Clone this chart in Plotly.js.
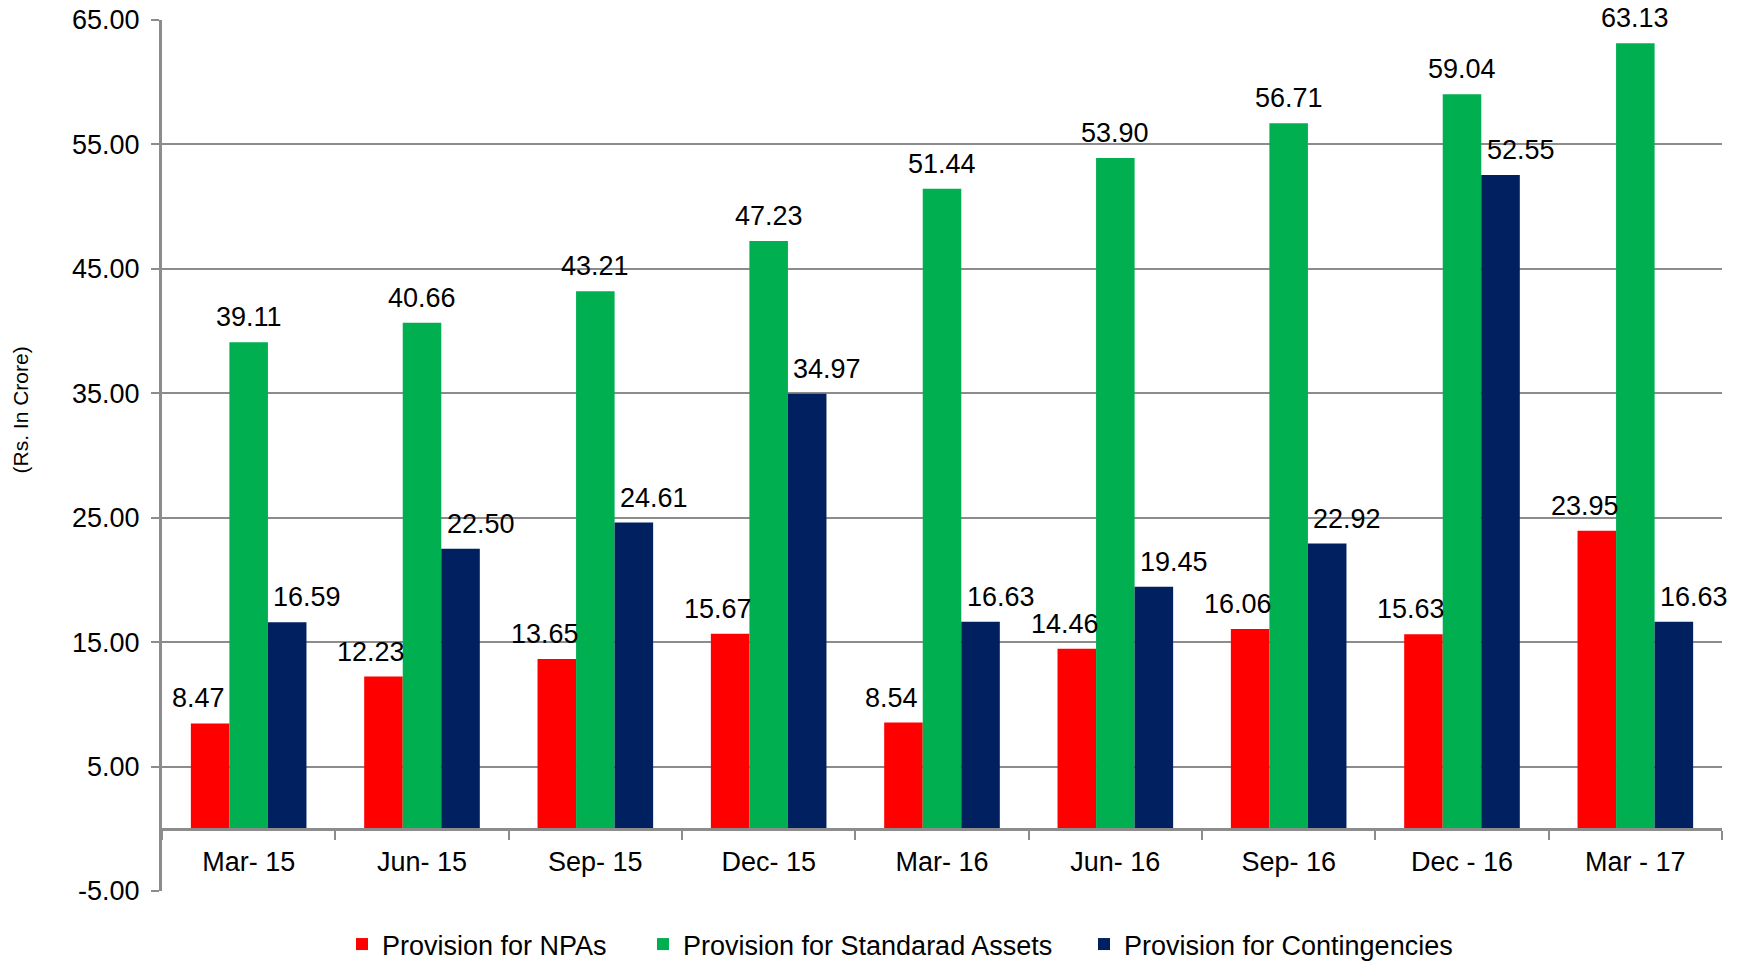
<!DOCTYPE html>
<html>
<head>
<meta charset="utf-8">
<script src="https://cdn.plot.ly/plotly-3.0.1.min.js"></script>
<style>html,body{margin:0;padding:0;background:#fff;}#chart{width:1754px;height:961px;}</style>
</head>
<body>
<div id="chart"></div>
<script>
const categories = ["Mar- 15", "Jun- 15", "Sep- 15", "Dec- 15", "Mar- 16", "Jun- 16", "Sep- 16", "Dec - 16", "Mar - 17"];
const npaValues = [8.47, 12.23, 13.65, 15.67, 8.54, 14.46, 16.06, 15.63, 23.95];
const standardValues = [39.11, 40.66, 43.21, 47.23, 51.44, 53.90, 56.71, 59.04, 63.13];
const contingencyValues = [16.59, 22.50, 24.61, 34.97, 16.63, 19.45, 22.92, 52.55, 16.63];
const seriesNames = ["Provision for NPAs", "Provision for Standarad Assets", "Provision for Contingencies"];
const seriesColors = ["#FF0000", "#00B050", "#002060"];
const yTickValues = [-5, 5, 15, 25, 35, 45, 55, 65];
const yTitle = "(Rs. In Crore)";

const FONT = "Liberation Sans, Arial, sans-serif";
const GRID = "#8c8c8c";
const FS = 27;
const W = 1754, H = 961;
const M = {l: 162, r: 32, t: 20, b: 70, autoexpand: false};
const plotW = W - M.l - M.r;
const plotH = H - M.t - M.b;
const bargap = 0.333;
const barW = plotW / categories.length * (1 - bargap) / 3;

const allSeries = [npaValues, standardValues, contingencyValues];
const legendIds = ["legend", "legend2", "legend3"];

const data = allSeries.map((vals, i) => ({
  type: "bar",
  x: categories,
  y: vals,
  name: seriesNames[i],
  legend: legendIds[i],
  marker: {color: seriesColors[i], line: {width: 0}},
  hoverinfo: "skip"
}));

// value labels (drawn above all bars)
const labelShift = [-12, 0, 20];
const annotations = [];
allSeries.forEach((vals, i) => {
  vals.forEach((v, j) => {
    annotations.push({
      x: categories[j], y: v, xref: "x", yref: "y",
      text: v.toFixed(2), showarrow: false,
      xanchor: "center", yanchor: "middle",
      xshift: (i - 1) * barW + labelShift[i], yshift: 25,
      font: {family: FONT, size: FS, color: "#000"}
    });
  });
});
annotations.push({
  text: yTitle, textangle: -90,
  xref: "paper", yref: "paper",
  x: -142 / plotW, xanchor: "center",
  y: 0.5517, yanchor: "middle",
  showarrow: false,
  font: {family: FONT, size: 21, color: "#000"}
});

const legendTextStart = [384, 685, 1126];
function legendAt(i) {
  return {
    orientation: "h", xref: "container", yref: "paper",
    x: (legendTextStart[i] - 42) / W, xanchor: "left",
    y: -29 / plotH, yanchor: "top",
    bgcolor: "rgba(0,0,0,0)", borderwidth: 0,
    font: {family: FONT, size: FS, color: "#000"},
    itemwidth: 30
  };
}

const ymin = -5, ymax = 65;
const layout = {
  width: W, height: H,
  margin: M,
  paper_bgcolor: "#fff", plot_bgcolor: "rgba(0,0,0,0)",
  font: {family: FONT, size: FS, color: "#000"},
  barmode: "group",
  bargap: bargap,
  bargroupgap: 0,
  showlegend: true,
  legend: legendAt(0), legend2: legendAt(1), legend3: legendAt(2),
  xaxis: {
    type: "category",
    range: [-0.5, categories.length - 0.5],
    anchor: "free",
    position: (0 - ymin) / (ymax - ymin),
    showline: true, linecolor: GRID, linewidth: 3,
    ticks: "outside", tickson: "boundaries", ticklen: 9, tickwidth: 2, tickcolor: GRID,
    ticklabelstandoff: 8,
    tickfont: {family: FONT, size: FS, color: "#000"},
    showgrid: false, zeroline: false,
    automargin: false,
    fixedrange: true
  },
  yaxis: {
    range: [ymin, ymax],
    tickmode: "array",
    tickvals: yTickValues,
    ticktext: yTickValues.map(v => v.toFixed(2)),
    showline: true, linecolor: GRID, linewidth: 3,
    ticks: "outside", ticklen: 8, tickwidth: 2, tickcolor: GRID,
    ticklabelstandoff: 6,
    showgrid: true, gridcolor: GRID, gridwidth: 2,
    zeroline: false,
    tickfont: {family: FONT, size: FS, color: "#000"},
    automargin: false,
    fixedrange: true
  },
  annotations: annotations
};

Plotly.newPlot("chart", data, layout, {displayModeBar: false, staticPlot: true});
</script>
</body>
</html>
